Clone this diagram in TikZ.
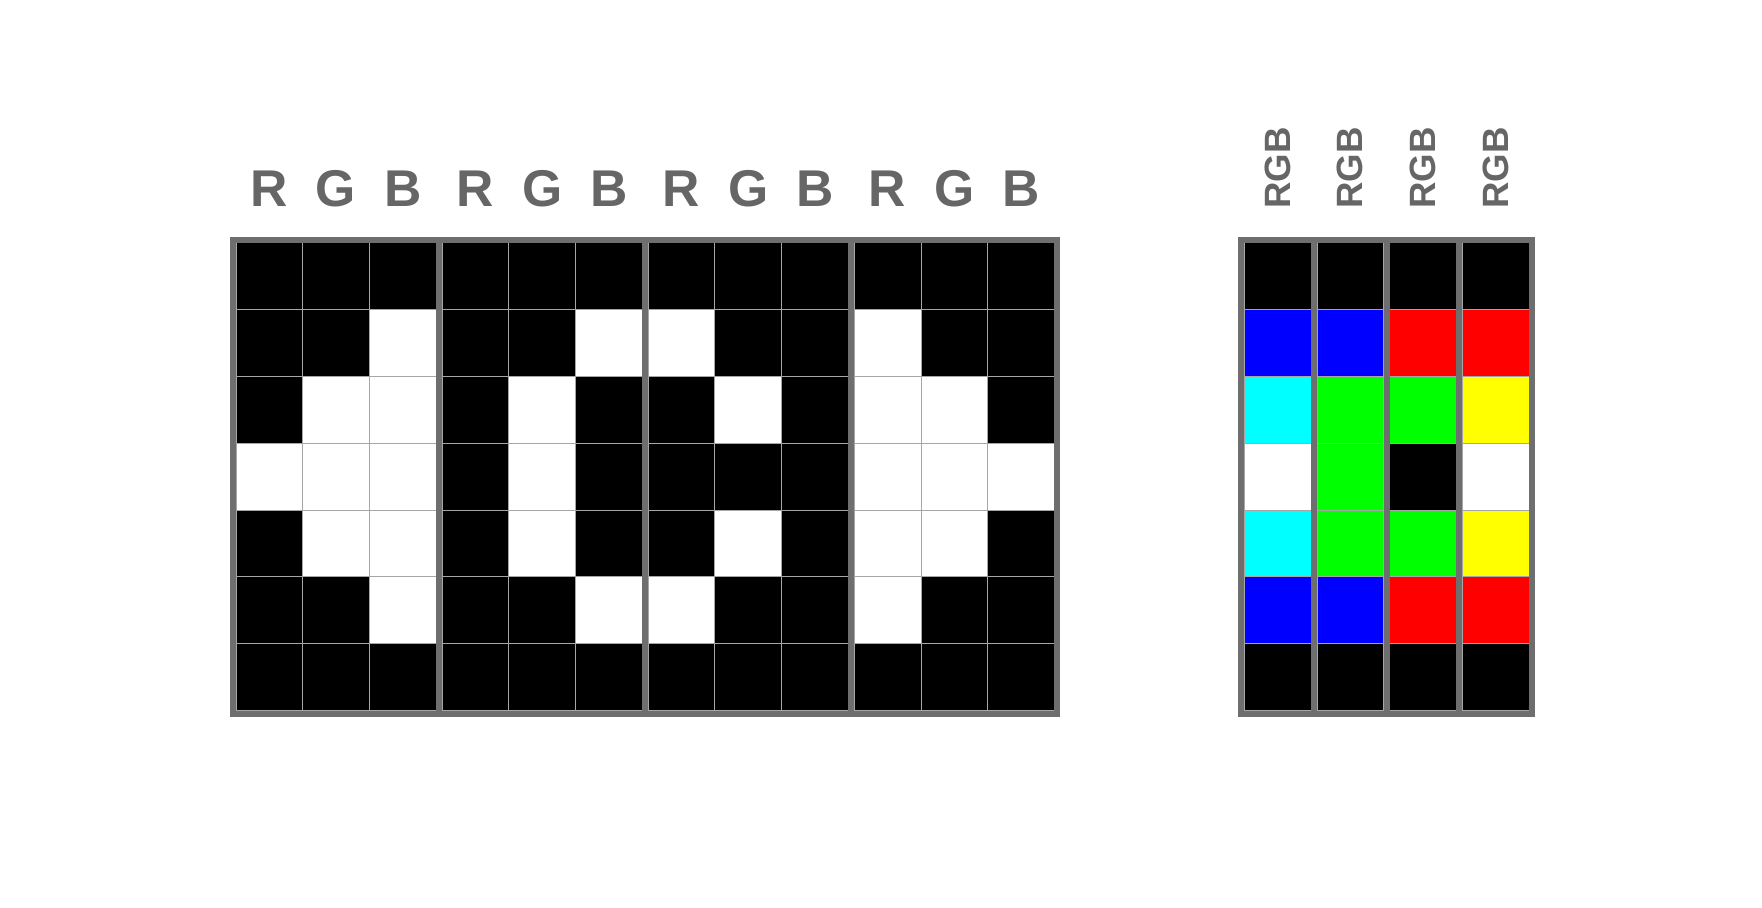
\documentclass[tikz,border=0pt]{standalone}
\usepackage{fontspec}
\setmainfont{Liberation Sans}
\usepackage{xcolor}
\definecolor{labelgray}{RGB}{102,102,102}
\definecolor{framegray}{RGB}{110,110,110}
\definecolor{linegray}{RGB}{166,166,166}
\definecolor{pxcyan}{RGB}{0,255,255}
\definecolor{pxyellow}{RGB}{255,255,0}
\definecolor{pxgreen}{RGB}{0,255,0}

\begin{document}
\begin{tikzpicture}[x=0.5pt,y=-0.5pt,
  frame/.style={framegray,line width=3pt},
  cellline/.style={linegray,line width=0.5pt},
  toplabel/.style={labelgray,font=\fontsize{25.85}{30}\selectfont\bfseries,inner sep=0pt,anchor=base},
  sidelabel/.style={labelgray,font=\fontsize{18.3}{22}\selectfont\bfseries,inner sep=0pt,rotate=90}]
\useasboundingbox (0,0) rectangle (1762,908);
% sub-pixel grid, 12 columns in groups of 3
\foreach \row [count=\j from 0] in {{black,black,black,black,black,black,black,black,black,black,black,black},
  {black,black,white,black,black,white,white,black,black,white,black,black},
  {black,white,white,black,white,black,black,white,black,white,white,black},
  {white,white,white,black,white,black,black,black,black,white,white,white},
  {black,white,white,black,white,black,black,white,black,white,white,black},
  {black,black,white,black,black,white,white,black,black,white,black,black},
  {black,black,black,black,black,black,black,black,black,black,black,black}}
  \foreach \c [count=\i from 0] in \row {
    \pgfmathsetmacro\xa{236+\i*66.7+int(\i/3)*6}
    \fill[\c] (\xa,243+\j*66.8) rectangle ++(66.7,66.8);
    \draw[cellline] (\xa,243+\j*66.8) rectangle ++(66.7,66.8);
  }
\draw[frame] (233,240) rectangle (1057.4,713.6);
\foreach \k in {1,2,3}
  \draw[frame] ({236+\k*200.1+(\k-1)*6+3},240) -- ++(0,473.6);
\foreach \t [count=\i from 0] in {R,G,B,R,G,B,R,G,B,R,G,B}
  \node[toplabel] (sub\i) at ({236+\i*66.7+int(\i/3)*6+33.35},206.7) {\t};
% pixel grid, 4 columns
\foreach \row [count=\j from 0] in {{black,black,black,black},{blue,blue,red,red},
  {pxcyan,pxgreen,pxgreen,pxyellow},{white,pxgreen,black,white},{pxcyan,pxgreen,pxgreen,pxyellow},
  {blue,blue,red,red},{black,black,black,black}}
  \foreach \c [count=\i from 0] in \row {
    \fill[\c] (1244.3+\i*72.7,243+\j*66.8) rectangle ++(66.7,66.8);
    \draw[cellline] (1244.3+\i*72.7,243+\j*66.8) rectangle ++(66.7,66.8);
  }
\draw[frame] (1241.3,240) rectangle (1532.1,713.6);
\foreach \k in {1,2,3}
  \draw[frame] (1244.3+\k*72.7-3,240) -- ++(0,473.6);
\foreach \i in {0,...,3}
  \node[sidelabel] (pix\i) at (1277.65+\i*72.7,167.8) {RGB};
\end{tikzpicture}
\end{document}
